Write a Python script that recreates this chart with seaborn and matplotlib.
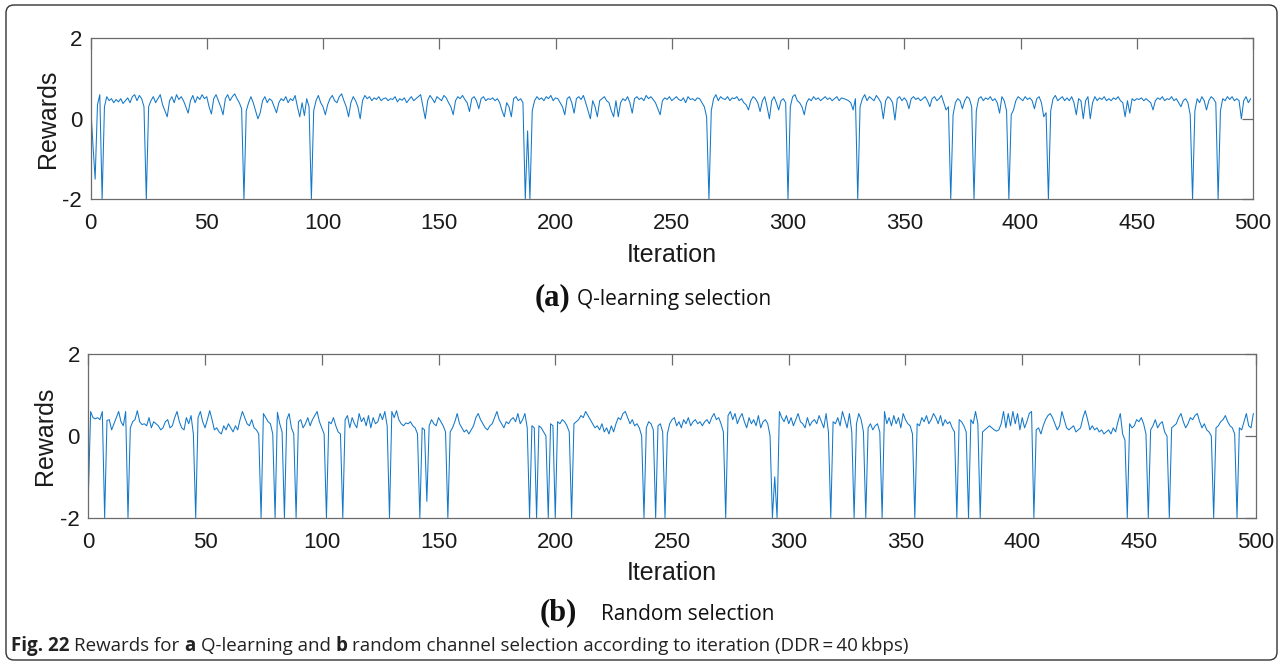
import matplotlib
matplotlib.use("Agg")
import matplotlib.pyplot as plt
import seaborn as sns
import pandas as pd
from matplotlib.patches import FancyBboxPatch

# ---------------- data ----------------
iterations = list(range(500))

q_rewards = [
    .40, -.60, -1.50, .35, .60, -2.0, .30, .55, .45, .50,
    .40, .48, .42, .50, .38, .45, .52, .40, .55, .60,
    .45, .58, .50, .30, -2.0, .30, .45, .55, .40, .50,
    .60, .35, .20, .05, .45, .55, .40, .60, .48, .55,
    .45, .30, .14, .45, .58, .40, .55, .48, .60, .50,
    .55, .30, .12, .50, .60, .45, .30, .10, .50, .60,
    .45, .55, .62, .50, .40, .25, -2.0, .20, .40, .55,
    .40, .20, .00, .15, .45, .55, .40, .50, .45, .30,
    .15, .40, .50, .45, .55, .40, .50, .45, .58, .30,
    .05, .40, .08, .50, .30, -2.0, .20, .45, .58, .40,
    .30, .10, .35, .50, .58, .45, .40, .55, .62, .45,
    .30, .05, .40, .55, .45, .30, .00, .45, .58, .50,
    .55, .45, .52, .48, .55, .45, .50, .52, .45, .50,
    .48, .55, .42, .50, .46, .52, .40, .48, .55, .45,
    .50, .55, .60, .30, .00, .45, .58, .50, .40, .55,
    .50, .45, .58, .52, .40, .30, .10, .45, .55, .50,
    .58, .48, .40, .18, .50, .55, .45, .25, .50, .55,
    .45, .50, .48, .52, .45, .50, .40, .20, .05, .40,
    .30, .05, .50, .55, .45, .50, .40, -2.0, -.30, -2.0,
    .20, .45, .55, .48, .52, .45, .55, .50, .58, .45,
    .52, .50, .40, .30, .10, .50, .55, .40, .14, .50,
    .55, .48, .58, .40, .20, .00, .45, .30, .05, .45,
    .50, .55, .45, .40, .20, .05, .45, .05, .40, .50,
    .45, .55, .40, .14, .50, .55, .48, .52, .45, .58,
    .50, .55, .48, .40, .25, .10, .45, .52, .48, .55,
    .45, .50, .55, .48, .45, .52, .40, .55, .48, .50,
    .45, .52, .50, .40, .30, .05, -2.0, .20, .50, .60,
    .45, .55, .50, .48, .55, .45, .52, .50, .55, .45,
    .50, .40, .35, .22, .45, .55, .50, .40, .18, .45,
    .55, .30, .00, .45, .55, .40, .22, .45, .50, .40,
    -2.0, .30, .55, .60, .45, .40, .30, .10, .40, .50,
    .45, .55, .48, .52, .45, .50, .55, .48, .52, .45,
    .50, .55, .45, .52, .50, .48, .45, .40, .22, .50,
    -2.0, .30, .50, .60, .45, .55, .50, .45, .58, .50,
    .40, .00, .45, .55, .50, .40, -.03, .50, .55, .45,
    .52, .45, .25, .50, .55, .48, .52, .45, .50, .55,
    .45, .30, .50, .55, .45, .50, .58, .40, .22, .30,
    -2.0, .10, .40, .50, .45, .25, .45, .55, .50, .30,
    -2.0, .20, .50, .55, .45, .52, .48, .55, .45, .50,
    .40, .14, .55, .45, .20, -2.0, .10, .22, .45, .55,
    .50, .45, .55, .48, .52, .45, .25, .50, .55, .40,
    .05, .15, -2.0, .20, .50, .58, .45, .50, .55, .45,
    .52, .45, .55, .40, .10, .50, .45, .00, .45, .55,
    .00, .40, .55, .45, .52, .48, .55, .45, .50, .45,
    .52, .48, .55, .45, .40, .05, .45, .14, .50, .45,
    .50, .48, .52, .45, .50, .45, .40, .22, .45, .52,
    .48, .55, .45, .50, .48, .55, .45, .50, .40, .30,
    .45, .50, .40, .10, -2.0, .20, .50, .40, .55, .45,
    .22, .45, .55, .50, .40, -2.0, .20, .50, .45, .55,
    .48, .55, .45, .50, .45, .00, .45, .55, .40, .50,
]

rand_rewards = [
    -1.5, .60, .45, .42, .45, .40, .60, -2.0, .38, .40,
    .15, .30, .45, .60, .35, .25, .60, -2.0, .20, .35,
    .40, .62, .35, .28, .30, .25, .45, .20, .35, .30,
    .25, .15, .20, .35, .40, .20, .25, .45, .60, .35,
    .20, .15, .45, .30, .50, .05, -2.0, .45, .60, .35,
    .20, .40, .62, .40, .15, .20, .10, .05, .25, .15,
    .30, .20, .10, .25, .15, .40, .60, .45, .30, .25,
    .40, .20, .15, .05, -2.0, .55, .45, .35, .30, .05,
    -2.0, .58, .30, .10, -2.0, .40, .55, .20, .05, -2.0,
    .35, .40, .20, .30, .45, .25, .40, .50, .60, .35,
    .20, .05, -2.0, .35, .30, .45, .25, .10, .05, -2.0,
    .40, .50, .20, .45, .30, .20, .55, .35, .45, .25,
    .50, .20, .45, .30, .35, .55, .40, .60, .25, -2.0,
    .60, .45, .62, .40, .30, .25, .32, .30, .35, .25,
    .20, .05, -2.0, .20, .15, -1.6, .25, .40, .30, .25,
    .45, .35, .25, .10, -2.0, .10, .20, .35, .55, .30,
    .20, .10, .15, .05, .15, .25, .45, .55, .40, .30,
    .20, .15, .25, .30, .45, .60, .40, .30, .20, .35,
    .30, .40, .45, .35, .55, .30, .40, .55, .20, -2.0,
    .25, .20, -2.0, .25, .20, .10, .00, -2.0, .30, .25,
    -2.0, .35, .30, .40, .35, .25, .10, -2.0, .30, .35,
    .40, .50, .45, .60, .50, .40, .30, .20, .25, .15,
    .30, .10, .20, .05, .25, .10, .30, .45, .40, .55,
    .60, .45, .30, .40, .25, .30, .20, .00, -2.0, .20,
    .35, .30, .15, -2.0, .25, .30, .10, -2.0, .05, .30,
    .40, .45, .25, .35, .20, .40, .30, .45, .25, .35,
    .40, .30, .35, .25, .35, .40, .30, .45, .55, .40,
    .45, .30, .10, -2.0, .50, .60, .40, .55, .30, .45,
    .55, .35, .20, .45, .30, .40, .25, .50, .20, .35,
    .40, .30, .00, -2.0, -1.0, -2.0, .60, .45, .35, .50,
    .30, .45, .25, .40, .55, .35, .30, .20, .45, .25,
    .35, .40, .30, .50, .35, .20, .55, .10, -2.0, .35,
    .30, .45, .25, .60, .40, .20, .55, .10, -2.0, .30,
    .55, .40, .10, -2.0, .20, .30, .15, .25, .30, .10,
    -2.0, .60, .30, .45, .25, .50, .30, .45, .20, .55,
    .40, .30, .25, .05, -2.0, .30, .25, .45, .35, .50,
    .30, .40, .55, .45, .30, .50, .25, .40, .30, .35,
    .20, .10, -2.0, .40, .35, .25, .10, -2.0, .40, .30,
    .60, .30, -2.0, .10, .15, .20, .25, .20, .15, .12,
    .15, .30, .60, .20, .55, .25, .60, .30, .55, .15,
    .45, .20, .35, .55, .60, -2.0, .15, .20, .05, .25,
    .40, .50, .55, .45, .30, .15, .25, .60, .40, .20,
    .15, .20, .25, .10, .15, .20, .45, .62, .40, .15,
    .25, .15, .20, .10, .15, .05, .10, .15, .05, .20,
    .10, .35, .55, .05, -.10, -2.0, .30, .20, .25, .40,
    .35, .45, .30, .05, -2.0, .15, .25, .40, .20, .30,
    .35, .10, .00, -2.0, .20, .25, .30, .45, .55, .35,
    .20, .30, .45, .40, .50, .55, .35, .20, .30, .15,
    .10, .00, -2.0, .20, .25, .35, .40, .50, .35, .25,
    .20, .05, -2.0, .20, .15, .35, .55, .25, .20, .55,
]

x_ticks = [0, 50, 100, 150, 200, 250, 300, 350, 400, 450, 500]
y_ticks = [-2, 0, 2]
x_label = "Iteration"
y_label = "Rewards"
panel_tags = ["(a)", "(b)"]
panel_titles = ["Q-learning selection", "Random selection"]
caption_runs = [("Fig. 22", True), ("Rewards for", False), ("a", True),
                ("Q-learning and", False), ("b", True),
                ("random channel selection according to iteration (DDR\u2009=\u200940\u2009kbps)", False)]

assert len(q_rewards) == 500 and len(rand_rewards) == 500

# ---------------- figure ----------------
W, H = 1281, 664
sns.set_theme(style="white")
plt.rcParams['font.family'] = ['Liberation Sans', 'DejaVu Sans']
plt.rcParams['axes.unicode_minus'] = False

fig = plt.figure(figsize=(W / 100, H / 100), dpi=100)
fig.patch.set_facecolor("white")

def px_axes(l, t, r, b):
    return fig.add_axes([l / W, 1 - b / H, (r - l) / W, (b - t) / H])

ax1 = px_axes(90.5, 38.3, 1253, 199.3)
ax2 = px_axes(88.3, 354.3, 1255.7, 517.7)

df = pd.DataFrame({"Iteration": iterations, "Q": q_rewards, "R": rand_rewards})
line_color = "#1478c8"
frame_color = "#6b6b6b"

for ax, col in [(ax1, "Q"), (ax2, "R")]:
    sns.lineplot(data=df, x="Iteration", y=col, ax=ax, color=line_color,
                 linewidth=0.75, estimator=None)
    ax.set_xlim(0, 500)
    ax.set_ylim(-2, 2)
    ax.set_xticks(x_ticks)
    ax.set_yticks(y_ticks)
    ax.tick_params(direction="in", length=8, width=0.9, color=frame_color,
                   top=True, right=True, labelsize=16, labelcolor="#1a1a1a")
    ax.tick_params(axis="x", pad=10)
    ax.tick_params(axis="y", pad=6)
    for s in ax.spines.values():
        s.set_visible(True)
        s.set_color(frame_color)
        s.set_linewidth(0.9)
    ax.set_xlabel(x_label, fontsize=18, color="#1a1a1a", labelpad=6)
    ax.set_ylabel(y_label, fontsize=18, color="#1a1a1a", labelpad=2)

renderer = fig.canvas.get_renderer()

def put_runs(runs, x_px, y_px):
    x = x_px
    for s, kw, gap in runs:
        t = fig.text(x / W, 1 - y_px / H, s, ha="left", va="baseline", **kw)
        bb = t.get_window_extent(renderer=renderer)
        x += bb.width + gap

sub_kw_tag = dict(fontsize=22, fontweight="bold", family=["Liberation Serif", "DejaVu Serif"], color="#111111")
sub_kw_txt = dict(fontsize=15, family=["Open Sans", "DejaVu Sans"], color="#111111")

put_runs([(panel_tags[0], sub_kw_tag, 6), (panel_titles[0], sub_kw_txt, 0)], 535, 305)
put_runs([(panel_tags[1], sub_kw_tag, 24), (panel_titles[1], sub_kw_txt, 0)], 540, 620)

cap_size = 13.5
cap_gap = 0.26 * cap_size * 100 / 72
cap_runs = []
for s, bold in caption_runs:
    cap_runs.append((s, dict(fontsize=cap_size, fontweight="bold" if bold else "normal",
                             family=["Open Sans", "DejaVu Sans"], color="#222222"), cap_gap))
put_runs(cap_runs, 11, 651)

border = FancyBboxPatch((6 / W, 4 / H), (1271) / W, (655) / H,
                        boxstyle="round,pad=0,rounding_size=%f" % (8 / W),
                        mutation_aspect=W / H, transform=fig.transFigure,
                        fill=False, edgecolor="#333333", linewidth=1.0)
fig.patches.append(border)

fig.savefig("out.png", dpi=100)
